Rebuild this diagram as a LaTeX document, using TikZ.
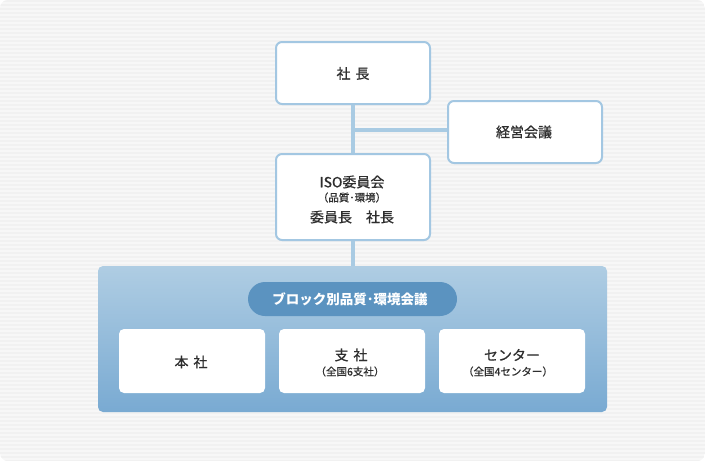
\documentclass[tikz,border=0pt]{standalone}
\usepackage{fontspec}
\newfontfamily\jp{Noto Sans CJK JP}[FakeBold=0.7]
\newfontfamily\jpb{Noto Sans CJK JP}
\usetikzlibrary{shadows}
\definecolor{bgA}{HTML}{F1F1F1}
\definecolor{bgB}{HTML}{F7F7F7}
\definecolor{edge}{HTML}{A3C7E2}
\definecolor{line}{HTML}{A9CBE3}
\definecolor{panTop}{HTML}{AFCDE3}
\definecolor{panBot}{HTML}{79AAD2}
\definecolor{pill}{HTML}{5B93C0}
\definecolor{txt}{HTML}{2E2E2E}
\tikzset{
  x=1pt,y=-1pt,
  topbox/.style={draw=edge,line width=2pt,fill=white,rounded corners=6pt,
    drop shadow={shadow xshift=0pt,shadow yshift=-1pt,opacity=0.12}},
  innerbox/.style={fill=white,rounded corners=5pt},
  lbl/.style={font=\jp\fontsize{14}{16}\selectfont,text=txt,align=center},
  sub/.style={font=\jp\fontsize{10.5}{12}\selectfont,text=txt},
  conn/.style={draw=line,line width=3.5pt}
}
\begin{document}
\begin{tikzpicture}
\useasboundingbox (0,0) rectangle (705,461);
% background
\begin{scope}
\clip[rounded corners=8pt] (0,0) rectangle (705,461);
\fill[bgB] (0,0) rectangle (705,461);
\foreach \y in {0,4,...,460} {\fill[bgA] (0,\y) rectangle (705,\y+2);}
\end{scope}
\coordinate (j1) at (353,130);
% boxes
\draw[topbox] (276,42) rectangle (430,104);
\node[lbl] (pres) at (353,73.5) {社\hspace{0.35em}長};
\draw[topbox] (448,101) rectangle (602,163);
\node[lbl] (keiei) at (524,132) {経営会議};
\draw[topbox] (276,154) rectangle (430,240);
\node[lbl] (iso) at (352,182) {ISO委員会};
\node[sub] (isosub) at (352,197.5) {（品質･環境）};
\node[lbl] (isochair) at (352,217) {委員長\hspace{1em}社長};
% lines
\coordinate (presB) at (353,105);
\coordinate (isoT) at (353,153);
\coordinate (isoB) at (353,241);
\coordinate (panT) at (353,267);
\coordinate (keiL) at (447,130);
\draw[conn] (presB) -- (isoT);
\draw[conn] (j1) -- (keiL);
\draw[conn] (isoB) -- (panT);
% panel
\shade[top color=panTop,bottom color=panBot,rounded corners=5pt] (98,266) rectangle (607,412);
\fill[pill,rounded corners=17pt] (248,282) rectangle (457,316);
\node[font=\jpb\bfseries\fontsize{13.5}{15}\selectfont,text=white] (block) at (350,299.5) {ブロック別品質･環境会議};
\fill[innerbox] (119,329) rectangle (265,393);
\fill[innerbox] (279,329) rectangle (425,393);
\fill[innerbox] (439,329) rectangle (585,393);
\node[lbl] (honsha) at (191,362) {本\hspace{0.35em}社};
\node[lbl] (shisha) at (351,355) {支\hspace{0.35em}社};
\node[sub] (shishasub) at (350,371.5) {（全国6支社）};
\node[lbl] (center) at (512,355) {センター};
\node[sub] (centersub) at (508,371.5) {（全国4センター）};
\end{tikzpicture}
\end{document}
